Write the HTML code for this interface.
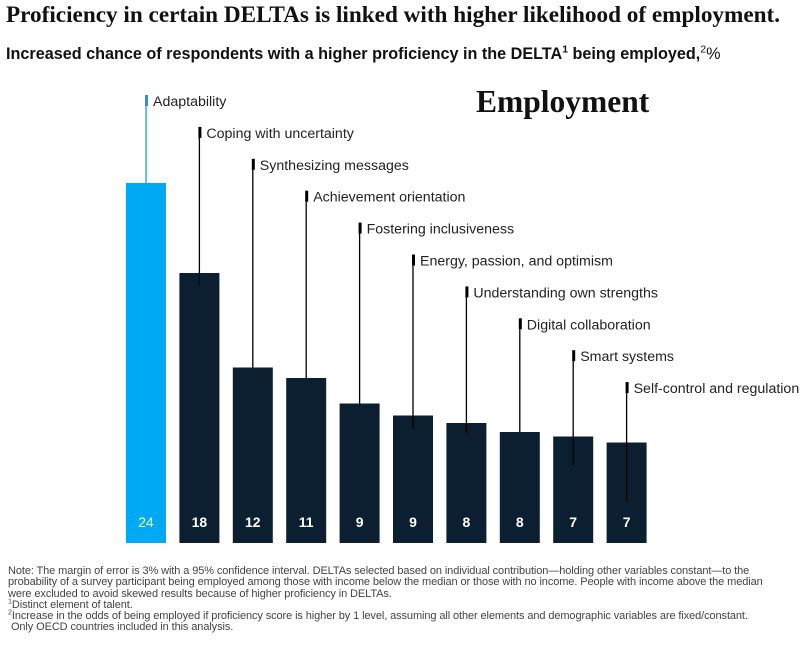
<!DOCTYPE html>
<html><head><meta charset="utf-8"><style>
body{margin:0;width:805px;height:653px;background:#fff;overflow:hidden;font-family:"Liberation Sans",Arial,sans-serif}
#title{position:absolute;left:6px;top:2px;font-family:"Liberation Serif",serif;font-size:23.2px;font-weight:bold;color:#111;white-space:nowrap}
#sub{position:absolute;left:6px;top:45px;font-size:16.2px;font-weight:bold;color:#111;white-space:nowrap}
#notes{position:absolute;left:8px;top:566px;font-size:11px;line-height:11.3px;color:#444;width:772px;letter-spacing:-0.1px}
sup{font-size:65%;line-height:0}
</style></head><body>
<div id="title">Proficiency in certain DELTAs is linked with higher likelihood of employment.</div>
<div id="sub">Increased chance of respondents with a higher proficiency in the DELTA<sup>1</sup> being employed,<sup style="font-weight:normal">2</sup><span style="font-weight:normal">%</span></div>
<svg id="chart" width="805" height="560" style="position:absolute;left:0;top:0"></svg>
<div id="notes">Note: The margin of error is 3% with a 95% confidence interval. DELTAs selected based on individual contribution—holding other variables constant—to the probability of a survey participant being employed among those with income below the median or those with no income. People with income above the median were excluded to avoid skewed results because of higher proficiency in DELTAs.<br><sup>1</sup>Distinct element of talent.<br><sup>2</sup>Increase in the odds of being employed if proficiency score is higher by 1 level, assuming all other elements and demographic variables are fixed/constant.<br>&nbsp;Only OECD countries included in this analysis.</div>
<script>
const categories=["Adaptability","Coping with uncertainty","Synthesizing messages","Achievement orientation","Fostering inclusiveness","Energy, passion, and optimism","Understanding own strengths","Digital collaboration","Smart systems","Self-control and regulation"];
const values=[24,18,11.7,11,9.3,8.5,8,7.4,7.1,6.7];
const labels=["24","18","12","11","9","9","8","8","7","7"];
const lineEnds=[24,17.2,11.7,11,9.3,7.6,7.3,7.4,5.2,2.8];
const svg=document.getElementById('chart');
const NS='http://www.w3.org/2000/svg';
const base=543,unit=15,x0=146,step=53.4,bw=40;
const xs=i=>x0+i*step, ys=v=>base-v*unit;
function mk(t,a){const e=document.createElementNS(NS,t);for(const k in a)e.setAttribute(k,a[k]);svg.appendChild(e);return e;}
const em=mk('text',{x:476,y:112,'font-family':'Liberation Serif,serif','font-size':31.5,'font-weight':'bold',fill:'#111'});
em.textContent='Employment';


categories.forEach((c,i)=>{
  const col=i===0?'#00a9f4':'#0b1f30', lc=i===0?'#1a9be0':'#000';
  const x=xs(i), ly=101+i*31.9;
  const r=mk('rect',{x:x-bw/2,y:ys(values[i]),width:bw,height:values[i]*unit,fill:col});
  
  
  const l=mk('line',{x1:x,x2:x,y1:ly-5,y2:ys(lineEnds[i]),stroke:lc,'stroke-width':1.3});
  
  
  const m=mk('rect',{x:x-1,y:ly-6,width:3,height:11,fill:lc});
  
  
  const t=mk('text',{x:x+7,y:ly+5,'font-size':14.2,fill:'#222'});
  t.textContent=c;
  
  
  const v=mk('text',{x:x,y:527,'font-size':14,fill:'#fff','text-anchor':'middle','font-weight':i===0?'normal':'bold'});
  v.textContent=labels[i];
  
  
});
</script>
</body></html>
